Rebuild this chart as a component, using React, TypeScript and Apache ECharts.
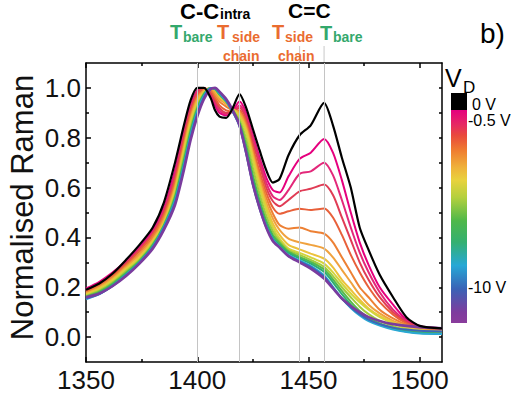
import React, { useEffect, useRef } from "react";
import * as echarts from "echarts";

// Raman shift grid (cm-1) shared by all spectra
const wavenumbers = [1350, 1356, 1362, 1368, 1374, 1380, 1385, 1390, 1394, 1397, 1400, 1403, 1406, 1408, 1410, 1413, 1416, 1419, 1422, 1425, 1428, 1431, 1434, 1437, 1441, 1446, 1451, 1457, 1461, 1465, 1469, 1473, 1477, 1482, 1488, 1494, 1500, 1510];

// Normalised Raman intensity for each drain voltage (0 V ... -10 V)
const s0 = [0.19, 0.215, 0.255, 0.31, 0.37, 0.44, 0.54, 0.70, 0.85, 0.95, 1.0, 1.0, 0.96, 0.91, 0.885, 0.88, 0.92, 0.975, 0.92, 0.835, 0.75, 0.67, 0.62, 0.635, 0.73, 0.81, 0.85, 0.94, 0.85, 0.72, 0.60, 0.44, 0.35, 0.25, 0.16, 0.08, 0.045, 0.035];
const s1 = [0.195, 0.222, 0.26, 0.305, 0.36, 0.43, 0.52, 0.67, 0.83, 0.93, 0.99, 1.0, 0.97, 0.93, 0.90, 0.89, 0.91, 0.945, 0.90, 0.81, 0.72, 0.64, 0.59, 0.58, 0.645, 0.715, 0.74, 0.795, 0.74, 0.63, 0.50, 0.38, 0.29, 0.20, 0.13, 0.07, 0.045, 0.035];
const s2 = [0.19, 0.217, 0.255, 0.30, 0.355, 0.42, 0.51, 0.655, 0.82, 0.92, 0.985, 1.0, 0.975, 0.94, 0.91, 0.895, 0.905, 0.93, 0.89, 0.80, 0.71, 0.62, 0.565, 0.55, 0.59, 0.655, 0.665, 0.70, 0.65, 0.55, 0.44, 0.34, 0.26, 0.18, 0.11, 0.065, 0.04, 0.03];
const s3 = [0.185, 0.212, 0.25, 0.295, 0.35, 0.415, 0.50, 0.64, 0.80, 0.91, 0.98, 1.0, 0.98, 0.95, 0.92, 0.90, 0.905, 0.92, 0.875, 0.78, 0.69, 0.60, 0.545, 0.525, 0.55, 0.585, 0.595, 0.612, 0.57, 0.48, 0.39, 0.30, 0.23, 0.16, 0.10, 0.06, 0.04, 0.03];
const s4 = [0.182, 0.208, 0.245, 0.29, 0.345, 0.41, 0.49, 0.625, 0.785, 0.90, 0.97, 0.995, 0.99, 0.96, 0.93, 0.91, 0.905, 0.91, 0.86, 0.76, 0.665, 0.58, 0.52, 0.495, 0.505, 0.515, 0.51, 0.516, 0.48, 0.41, 0.33, 0.26, 0.20, 0.14, 0.09, 0.055, 0.035, 0.028];
const s5 = [0.178, 0.205, 0.24, 0.285, 0.335, 0.40, 0.48, 0.61, 0.77, 0.885, 0.96, 0.99, 0.995, 0.97, 0.945, 0.925, 0.91, 0.905, 0.85, 0.745, 0.645, 0.56, 0.495, 0.45, 0.435, 0.44, 0.425, 0.415, 0.38, 0.32, 0.26, 0.20, 0.16, 0.11, 0.075, 0.05, 0.033, 0.025];
const s6 = [0.175, 0.2, 0.235, 0.28, 0.33, 0.39, 0.47, 0.60, 0.76, 0.875, 0.955, 0.99, 1.0, 0.98, 0.955, 0.935, 0.915, 0.90, 0.84, 0.735, 0.63, 0.54, 0.475, 0.43, 0.395, 0.38, 0.37, 0.355, 0.32, 0.27, 0.22, 0.17, 0.13, 0.095, 0.065, 0.045, 0.03, 0.022];
const s7 = [0.172, 0.195, 0.23, 0.275, 0.32, 0.385, 0.46, 0.59, 0.75, 0.865, 0.945, 0.985, 1.0, 0.99, 0.965, 0.94, 0.915, 0.89, 0.83, 0.72, 0.615, 0.525, 0.455, 0.41, 0.37, 0.352, 0.335, 0.315, 0.28, 0.23, 0.19, 0.15, 0.115, 0.085, 0.06, 0.04, 0.028, 0.02];
const s8 = [0.168, 0.19, 0.225, 0.27, 0.315, 0.38, 0.455, 0.58, 0.74, 0.855, 0.935, 0.98, 1.0, 0.995, 0.97, 0.945, 0.915, 0.885, 0.82, 0.71, 0.60, 0.51, 0.44, 0.395, 0.355, 0.338, 0.32, 0.295, 0.26, 0.215, 0.175, 0.14, 0.11, 0.08, 0.055, 0.035, 0.025, 0.018];
const s9 = [0.165, 0.186, 0.22, 0.264, 0.31, 0.374, 0.45, 0.57, 0.725, 0.84, 0.925, 0.978, 1.0, 0.995, 0.972, 0.945, 0.91, 0.872, 0.795, 0.68, 0.575, 0.488, 0.425, 0.385, 0.348, 0.33, 0.31, 0.282, 0.245, 0.2, 0.16, 0.122, 0.092, 0.065, 0.044, 0.03, 0.02, 0.015];
const s10 = [0.162, 0.182, 0.215, 0.258, 0.306, 0.37, 0.448, 0.562, 0.71, 0.828, 0.918, 0.975, 1.0, 0.995, 0.974, 0.946, 0.907, 0.862, 0.77, 0.65, 0.55, 0.468, 0.41, 0.378, 0.343, 0.322, 0.302, 0.272, 0.232, 0.185, 0.142, 0.105, 0.078, 0.055, 0.037, 0.025, 0.018, 0.014];
const s11 = [0.158, 0.178, 0.211, 0.254, 0.302, 0.366, 0.444, 0.556, 0.70, 0.82, 0.912, 0.972, 1.0, 0.996, 0.976, 0.946, 0.904, 0.856, 0.755, 0.635, 0.535, 0.455, 0.40, 0.37, 0.338, 0.316, 0.295, 0.262, 0.22, 0.172, 0.13, 0.095, 0.07, 0.05, 0.033, 0.022, 0.016, 0.013];
const s12 = [0.152, 0.172, 0.206, 0.25, 0.3, 0.362, 0.442, 0.548, 0.69, 0.81, 0.905, 0.968, 1.0, 0.998, 0.978, 0.948, 0.902, 0.848, 0.74, 0.615, 0.52, 0.445, 0.392, 0.362, 0.33, 0.308, 0.286, 0.248, 0.202, 0.155, 0.117, 0.087, 0.064, 0.046, 0.03, 0.02, 0.014, 0.012];
const s13 = [0.155, 0.173, 0.205, 0.248, 0.298, 0.36, 0.438, 0.54, 0.68, 0.80, 0.895, 0.962, 0.998, 1.0, 0.982, 0.952, 0.905, 0.845, 0.735, 0.61, 0.515, 0.44, 0.388, 0.358, 0.325, 0.304, 0.282, 0.242, 0.198, 0.155, 0.12, 0.092, 0.07, 0.052, 0.038, 0.03, 0.025, 0.022];
const s14 = [0.16, 0.175, 0.205, 0.245, 0.295, 0.355, 0.43, 0.53, 0.67, 0.79, 0.885, 0.955, 0.995, 1.0, 0.985, 0.955, 0.91, 0.85, 0.74, 0.615, 0.52, 0.44, 0.385, 0.36, 0.325, 0.30, 0.275, 0.235, 0.195, 0.155, 0.125, 0.1, 0.08, 0.065, 0.052, 0.045, 0.04, 0.035];

const spectra = [s0, s1, s2, s3, s4, s5, s6, s7, s8, s9, s10, s11, s12, s13, s14];
const spectrumColors = ["#000000", "#e5007e", "#e3287a", "#e03c55", "#e8603a", "#ed8034", "#f0a23e", "#ecc23c", "#d4d43c", "#a2cc3c", "#58ba48", "#2fae72", "#2aa8d4", "#3c66b8", "#7a3c9e"];

const xTickLabels = [1350, 1400, 1450, 1500];
const xMinorTicks = [1375, 1425, 1475];
const yTickLabels = [0, 0.2, 0.4, 0.6, 0.8, 1.0];
const yMinorTicks = [0.1, 0.3, 0.5, 0.7, 0.9];
const yAllTicks = [0, 0.1, 0.2, 0.3, 0.4, 0.5, 0.6, 0.7, 0.8, 0.9, 1.0];
const refLines = [1400, 1419, 1446, 1457];
const refLinesAbove = [1419, 1446, 1457];
const colorbarLabels = ["0 V", "-0.5 V", "-10 V"];

export default function App() {
  const ref = useRef<HTMLDivElement>(null);
  useEffect(() => {
    const chart = echarts.init(ref.current!, null, { renderer: "svg" });
    const font = "'Liberation Sans', Arial, Helvetica, sans-serif";
    const green = "#33a86c";
    const orange = "#ea6c30";
    const black = "#000";

    const mkX = (pos: string, ticks: number[], len: number, showLine: boolean, showLabel: boolean) => ({
      type: "value", min: 1350, max: 1510, position: pos,
      axisLine: { show: showLine, onZero: false, lineStyle: { color: black, width: 1.5 } },
      axisTick: { show: true, inside: true, length: len, customValues: ticks, lineStyle: { color: black, width: 1.5 } },
      axisLabel: { show: showLabel, customValues: ticks, fontSize: 26, color: "#111", margin: 5, fontFamily: font, formatter: (v: number) => String(v) },
      splitLine: { show: false },
    });
    const mkY = (pos: string, ticks: number[], len: number, showLine: boolean, showLabel: boolean) => ({
      type: "value", min: -0.1, max: 1.1, position: pos,
      axisLine: { show: showLine, onZero: false, lineStyle: { color: black, width: 1.5 } },
      axisTick: { show: true, inside: true, length: len, customValues: ticks, lineStyle: { color: black, width: 1.5 } },
      axisLabel: { show: showLabel, customValues: ticks, fontSize: 26, color: "#111", margin: 5, fontFamily: font, formatter: (v: number) => v.toFixed(1) },
      splitLine: { show: false },
    });

    const txt = (text: string, x: number, y: number, size: number, color: string, bold: boolean, extra: any = {}) => ({
      type: "text", x, y, ...extra,
      style: {
        text, fill: color, fontSize: size, fontFamily: font, fontWeight: bold ? "bold" : "normal",
        align: extra.align || "left", textAlign: extra.align || "left", verticalAlign: "middle", textVerticalAlign: "middle",
      },
    });

    const gradient = new echarts.graphic.LinearGradient(0, 0, 0, 1, [
      { offset: 0, color: "#e5007e" },
      { offset: 0.07, color: "#e62a62" },
      { offset: 0.12, color: "#e94a3c" },
      { offset: 0.19, color: "#ef7d30" },
      { offset: 0.27, color: "#efb23a" },
      { offset: 0.33, color: "#e8d23e" },
      { offset: 0.41, color: "#b4d03e" },
      { offset: 0.52, color: "#4fb84a" },
      { offset: 0.62, color: "#34b070" },
      { offset: 0.73, color: "#26a8d6" },
      { offset: 0.84, color: "#3a62b6" },
      { offset: 0.95, color: "#7e3c9e" },
      { offset: 1, color: "#8a3c9c" },
    ]);

    const graphics: any[] = [
      { type: "rect", shape: { x: 451, y: 93, width: 16, height: 17 }, style: { fill: "#000" } },
      { type: "rect", shape: { x: 451, y: 110, width: 16, height: 213 }, style: { fill: gradient } },
      txt("C-C", 180, 11, 22, black, true),
      txt("intra", 220, 13.5, 14, black, true),
      txt("C=C", 288, 10.5, 21, black, true),
      txt("T", 170, 32, 20, green, true),
      txt("bare", 183, 36.5, 14, green, true),
      txt("T", 217, 32, 20, orange, true),
      txt("side", 232, 36.5, 14, orange, true),
      txt("chain", 223, 55.5, 14, orange, true),
      txt("T", 272, 32, 20, orange, true),
      txt("side", 285, 36.5, 14, orange, true),
      txt("chain", 278, 55.5, 14, orange, true),
      txt("T", 320, 32.5, 20, green, true),
      txt("bare", 333, 36.5, 14, green, true),
      txt("b)", 480, 33, 28, black, false),
      txt("V", 445, 77.5, 25, black, false),
      txt("D", 463, 87.5, 17, black, false),
      txt(colorbarLabels[0], 472, 104, 16, black, false),
      txt(colorbarLabels[1], 468, 120, 16, black, false),
      txt(colorbarLabels[2], 468, 287, 16, black, false),
      txt("Normalised Raman", 22, 207.5, 31, "#111", false, { rotation: Math.PI / 2, align: "center" }),
    ];

    const order = [1, 2, 3, 4, 5, 6, 7, 8, 9, 10, 11, 12, 13, 14, 0];
    const series: any[] = [
      {
        type: "line", data: [], silent: true,
        markLine: {
          symbol: "none", silent: true, label: { show: false },
          lineStyle: { color: "#c4c4c4", width: 1, type: "solid" },
          data: refLines.map((v) => ({ xAxis: v })),
        },
      },
      ...order.map((i) => ({
        type: "line",
        name: String(i),
        data: wavenumbers.map((x, k) => [x, spectra[i][k]]),
        showSymbol: false, symbol: "none", smooth: 0.25,
        lineStyle: { color: spectrumColors[i], width: i === 14 ? 2.6 : i === 0 ? 2.2 : 2 },
        itemStyle: { color: spectrumColors[i] },
      })),
    ];

    const option: any = {
      animation: false,
      backgroundColor: "#fff",
      grid: { left: 86, top: 63, width: 356, height: 299, outerBoundsMode: "none", containLabel: false },
      xAxis: [
        mkX("bottom", xTickLabels, 5, true, true),
        mkX("bottom", xMinorTicks, 3, false, false),
        mkX("top", xTickLabels, 5, true, false),
        mkX("top", xMinorTicks, 3, false, false),
      ],
      yAxis: [
        mkY("left", yTickLabels, 5, true, true),
        mkY("left", yMinorTicks, 3, false, false),
        mkY("right", yAllTicks, 3, true, false),
      ],
      series,
      graphic: { elements: graphics },
    };
    chart.setOption(option);

    const extra = refLinesAbove.map((v) => {
      const px = chart.convertToPixel({ xAxisIndex: 0 }, v) as number;
      return { type: "line", shape: { x1: px, y1: 46, x2: px, y2: 63 }, style: { stroke: "#c8c8c8", lineWidth: 1 }, z: -1 };
    });
    chart.setOption({ graphic: { elements: [...graphics, ...extra] } });

    return () => chart.dispose();
  }, []);
  return <div ref={ref} style={{ position: "fixed", left: 0, top: 0, width: 511, height: 398 }} />;
}
